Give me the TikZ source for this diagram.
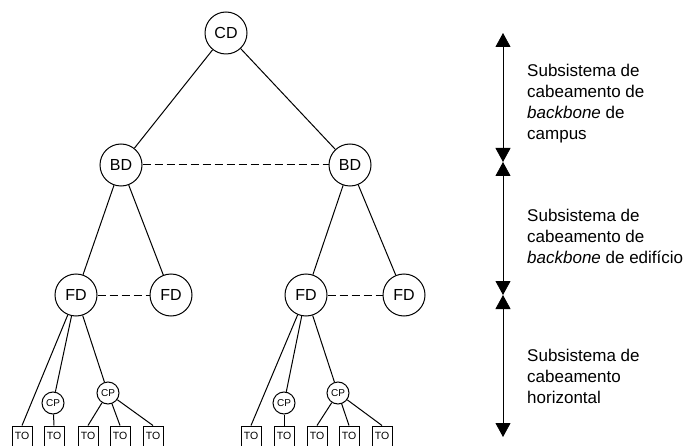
\documentclass[tikz,border=0pt]{standalone}
\usepackage{fontspec}
\setmainfont{Liberation Sans}
\usetikzlibrary{arrows.meta}
\definecolor{grey}{rgb}{0.5,0.5,0.5}

\begin{document}
\begin{tikzpicture}[x=1pt, y=-1pt,
big/.style ={shape=circle, draw, line width=1pt, minimum size=42pt, inner sep=0pt, font=\fontsize{16}{18}\selectfont},
small/.style ={shape=circle, draw, line width=1pt, minimum size=22pt, inner sep=0pt, font=\fontsize{10}{12}\selectfont},
outlet/.style ={shape=rectangle, draw, line width=1pt, minimum width=20pt, minimum height=20pt, inner sep=0pt, font=\fontsize{10.5}{12}\selectfont},
label/.style ={anchor=west, align=left, inner sep=0pt, font=\fontsize{17}{21}\selectfont},
link/.style ={line width=1pt},
peer/.style ={line width=1pt, dash pattern=on 8pt off 4pt},
span/.style ={line width=0.8pt, {Triangle[length=14pt,width=15pt]}-{Triangle[length=14pt,width=15pt]}}]
\useasboundingbox (0,0) rectangle (692,446);
% tree
\node[big] (cd) at (226, 33) {CD};
\node[big] (bd1) at (121, 165) {BD};
\node[big] (bd2) at (350, 165) {BD};
\node[big] (fd1) at (76, 295) {FD};
\node[big] (fd2) at (171, 295) {FD};
\node[big] (fd3) at (306, 295) {FD};
\node[big] (fd4) at (404, 295) {FD};
%left group
\node[small] (cp1) at (53, 403) {CP};
\node[small] (cp2) at (108, 393) {CP};
\node[outlet] (to1) at (22, 436) {TO};
\node[outlet] (to2) at (54, 436) {TO};
\node[outlet] (to3) at (88, 436) {TO};
\node[outlet] (to4) at (120, 436) {TO};
\node[outlet] (to5) at (153, 436) {TO};
%right group
\node[small] (cp3) at (284, 403) {CP};
\node[small] (cp4) at (338, 393) {CP};
\node[outlet] (to6) at (251, 436) {TO};
\node[outlet] (to7) at (284, 436) {TO};
\node[outlet] (to8) at (317, 436) {TO};
\node[outlet] (to9) at (349, 436) {TO};
\node[outlet] (to10) at (382, 436) {TO};

\draw[link] (cd) -- (bd1);
\draw[link] (cd) -- (bd2);
\draw[link] (bd1) -- (fd1);
\draw[link] (bd1) -- (fd2);
\draw[link] (bd2) -- (fd3);
\draw[link] (bd2) -- (fd4);
\draw[peer] (bd1) -- (bd2);
\draw[peer] (fd1) -- (fd2);
\draw[peer] (fd3) -- (fd4);

\draw[link] (fd1) -- (to1.north);
\draw[link] (fd1) -- (cp1);
\draw[link] (fd1) -- (cp2);
\draw[link] (cp1) -- (to2.north);
\draw[link] (cp2) -- (to3.north);
\draw[link] (cp2) -- (to4.north);
\draw[link] (cp2) -- (to5.north);

\draw[link] (fd3) -- (to6.north);
\draw[link] (fd3) -- (cp3);
\draw[link] (fd3) -- (cp4);
\draw[link] (cp3) -- (to7.north);
\draw[link] (cp4) -- (to8.north);
\draw[link] (cp4) -- (to9.north);
\draw[link] (cp4) -- (to10.north);

% subsystems
\coordinate (s0) at (503, 33);
\coordinate (s1) at (503, 162);
\coordinate (s2) at (503, 295);
\coordinate (s3) at (503, 437);
\draw[span] (s0) -- (s1);
\draw[span] (s1) -- (s2);
\draw[span] (s2) -- (s3);
\node[label] (campus) at (527, 104) {Subsistema de\\cabeamento de\\\textit{backbone} de\\campus};
\node[label] (building) at (527, 236) {Subsistema de\\cabeamento de\\\textit{backbone} de edifício};
\node[label] (horiz) at (527, 376) {Subsistema de\\cabeamento\\horizontal};
\end{tikzpicture}
\end{document}
